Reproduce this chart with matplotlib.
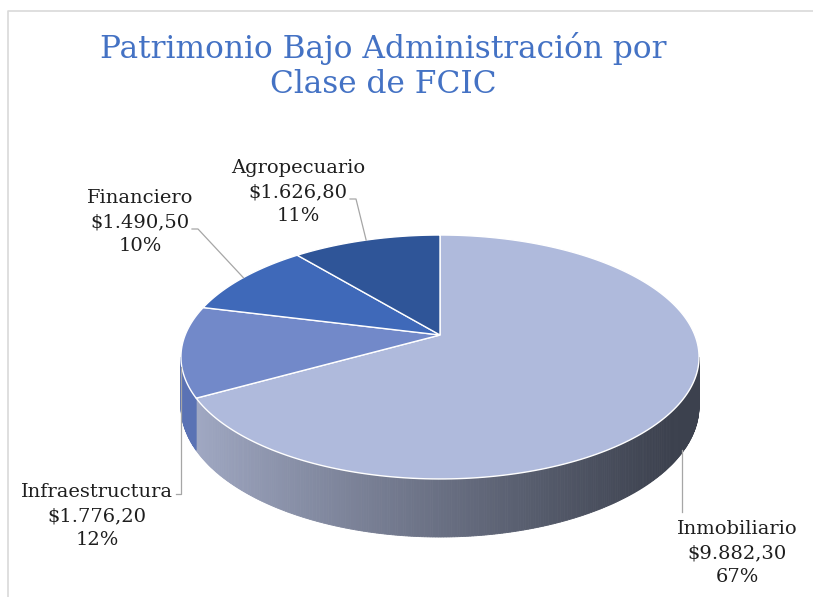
import numpy as np
import matplotlib
matplotlib.use("Agg")
import matplotlib.pyplot as plt
from matplotlib.patches import Polygon

# data
categorias = ["Inmobiliario", "Infraestructura", "Financiero", "Agropecuario"]
valores = [9882.30, 1776.20, 1490.50, 1626.80]
titulo = "Patrimonio Bajo Administración por\nClase de FCIC"

# estilo
col_top = ["#AFBADC", "#7289C9", "#3F69B9", "#2F5598"]
col_wall = ["#7A8199", "#5A72B4", "#3A5FA8", "#2A4C88"]
label_pos = [(737, 553), (97, 516), (140, 222), (298, 192)]

plt.rcParams["font.family"] = ["DejaVu Serif"]

fig = plt.figure(figsize=(8.13, 5.97), dpi=100)
ax = fig.add_axes([0, 0, 1, 1])
ax.set_xlim(0, 813)
ax.set_ylim(597, 0)
ax.axis("off")

# marco
ax.plot([8, 8, 813], [597, 11, 11], color="#D9D9D9", lw=1.2)

# proyeccion en perspectiva del disco
X0, Y0 = 440.0, 335.0
k = 0.1803
A, B = 254.8, 118.0
H = 47.6


def proj(t_deg, drop=0.0):
    t = np.radians(t_deg)
    u = np.sin(t)
    v = -np.cos(t)
    w = 1 - k * v
    return X0 + A * u / w, Y0 + (B * v + drop) / w


total = sum(valores)
fr = np.array(valores) / total
bordes = np.concatenate([[0], np.cumsum(fr) * 360])

vis0 = 90 + np.degrees(np.arcsin(k))
vis1 = 270 - np.degrees(np.arcsin(k))

c_left = np.array([162, 170, 197]) / 255
c_right = np.array([60, 65, 78]) / 255

# paredes laterales
for i in range(len(valores)):
    a0 = max(bordes[i], vis0)
    a1 = min(bordes[i + 1], vis1)
    if a1 <= a0:
        continue
    ts = np.linspace(a0, a1, int((a1 - a0) * 2) + 2)
    for j in range(len(ts) - 1):
        xa, ya = proj(ts[j])
        xb, yb = proj(ts[j + 1])
        xc, yc = proj(ts[j + 1], H)
        xd, yd = proj(ts[j], H)
        if i == 0:
            s = np.clip(((xa + xb) / 2 - 190) / 480, 0, 1) ** 0.9
            c = c_left + (c_right - c_left) * s
        else:
            c = col_wall[i]
        ax.add_patch(Polygon([(xa, ya), (xb, yb), (xc, yc), (xd, yd)],
                             closed=True, facecolor=c, edgecolor=c, lw=0.6))

# caras superiores
for i in range(len(valores)):
    ts = np.linspace(bordes[i], bordes[i + 1], 200)
    xs, ys = proj(ts)
    pts = [(X0, Y0)] + list(zip(xs, ys))
    ax.add_patch(Polygon(pts, closed=True, facecolor=col_top[i],
                         edgecolor="white", lw=1.0))

# etiquetas
lc = "#A6A6A6"
for i, nom in enumerate(categorias):
    v = valores[i]
    num = f"{v:,.2f}".replace(",", "X").replace(".", ",").replace("X", ".")
    pct = round(fr[i] * 100)
    lx, ly = label_pos[i]
    ax.text(lx, ly, f"{nom}\n${num}\n{pct}%", ha="center", va="center",
            fontsize=14, color="#1E1E1E", linespacing=1.4, parse_math=False)

    mid = (bordes[i] + bordes[i + 1]) / 2
    if i == 0:
        sx, sy = proj(mid, H * 0.95)
        ax.plot([sx, sx], [sy, ly - 41], color=lc, lw=0.9)
    elif i == 1:
        sx, sy = proj(vis1)
        ax.plot([sx, sx, sx - 5], [sy + 10, ly - 22, ly - 22], color=lc, lw=0.9)
    else:
        sx, sy = proj(mid)
        ex = lx + 52 if i == 3 else lx + 52
        ax.plot([sx, ex + 6, ex], [sy, ly + 7, ly + 7], color=lc, lw=0.9)

ax.text(383, 66, titulo, ha="center", va="center", fontsize=22.5,
        color="#4472C4", linespacing=1.2)

fig.savefig("out.png", dpi=100)
